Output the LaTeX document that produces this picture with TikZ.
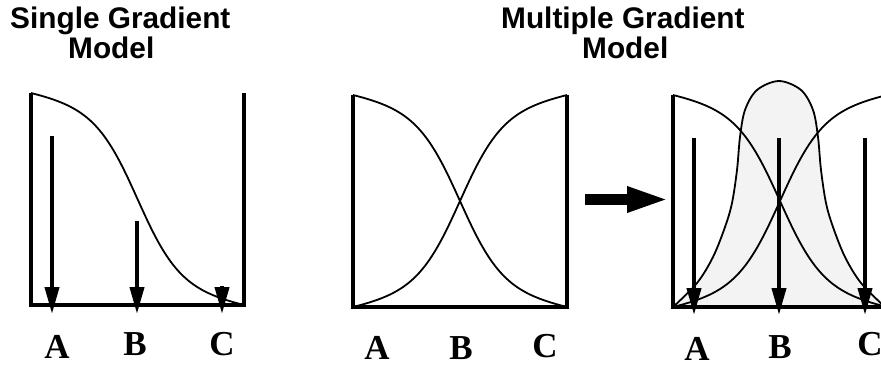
\documentclass[tikz,border=0pt]{standalone}
\usepackage{fontspec}
\setmainfont{Liberation Serif}
\newfontfamily\titlefont{Liberation Sans}
\usetikzlibrary{arrows.meta}
\definecolor{bellgray}{RGB}{243,243,243}
% sigmoid shape: g(u) = 0.2 u + 0.8 tanh(2.5u)/tanh(2.5)
\tikzset{declare function={sg(\u)=0.2*\u+0.8*tanh(2.5*\u)/tanh(2.5);}}
\begin{document}
\begin{tikzpicture}[x=1pt,y=-1pt,
  wall/.style={line width=4.5pt, line join=miter},
  curve/.style={line width=1.8pt},
  probe/.style={line width=4pt, -{Triangle[length=27pt,width=14pt]}},
  bigarrow/.style={line width=11pt, -{Triangle[length=43pt,width=23pt]}},
  lbl/.style={font=\fontsize{35}{35}\selectfont\bfseries, anchor=base, inner sep=0pt},
  ttl/.style={font=\titlefont\fontsize{29.8}{30}\selectfont\bfseries, anchor=base west, inner sep=0pt}]
\useasboundingbox (0,0) rectangle (881,367);
\clip (0,0) rectangle (881,367);

% titles
\node[ttl] (t1a) at (10,28) {Single Gradient};
\node[ttl] (t1b) at (68,58) {Model};
\node[ttl] (t2a) at (501,28) {Multiple Gradient};
\node[ttl] (t2b) at (582,58) {Model};

% ---------- panel 1 ----------
\draw[curve] plot[domain=31:244, samples=100]
  (\x, {93 + 212*(0.5 + 0.5*sg(2*(\x-31)/213-1))});
\draw[wall] (31,93) -- (31,305) -- (244,305) -- (244,93);
\coordinate (a1s) at (52,136);  \coordinate (a1e) at (52,314);
\coordinate (b1s) at (137,221); \coordinate (b1e) at (137,314);
\coordinate (c1s) at (222,286); \coordinate (c1e) at (222,314);
\draw[probe] (a1s) -- (a1e);
\draw[probe] (b1s) -- (b1e);
\draw[probe] (c1s) -- (c1e);
\node[lbl] (lA1) at (57,358) {A};
\node[lbl] (lB1) at (135,355) {B};
\node[lbl] (lC1) at (222,355) {C};

% ---------- panel 2 ----------
\draw[curve] plot[domain=353:567, samples=100]
  (\x, {95 + 212*(0.5 + 0.5*sg(2*(\x-353)/214-1))});
\draw[curve] plot[domain=353:567, samples=100]
  (\x, {95 + 212*(0.5 - 0.5*sg(2*(\x-353)/214-1))});
\draw[wall] (353,95) -- (353,307) -- (567,307) -- (567,95);
\node[lbl] (lA2) at (377,359) {A};
\node[lbl] (lB2) at (461,359) {B};
\node[lbl] (lC2) at (545,357) {C};

% big arrow
\coordinate (bas) at (585,199.5);
\coordinate (bae) at (670,199.5);
\draw[bigarrow] (bas) -- (bae);

% ---------- panel 3 ----------
\path[fill=bellgray, draw=black, curve] plot[smooth, tension=0.55] coordinates {
  (673,307) (697,283) (713,257) (725,227) (732,203) (737,170) (740,137)
  (745,110) (757,90) (779,81) (801,90) (813,110) (818,137) (821,170)
  (826,203) (833,227) (845,257) (861,283) (885,307)};
\draw[curve] plot[domain=673:887, samples=100]
  (\x, {95 + 212*(0.5 + 0.5*sg(2*(\x-673)/214-1))});
\draw[curve] plot[domain=673:887, samples=100]
  (\x, {95 + 212*(0.5 - 0.5*sg(2*(\x-673)/214-1))});
\draw[wall] (673,95) -- (673,307) -- (890,307);
\coordinate (a3s) at (694,138); \coordinate (a3e) at (694,315);
\coordinate (b3s) at (779,138); \coordinate (b3e) at (779,315);
\coordinate (c3s) at (865,138); \coordinate (c3e) at (865,315);
\draw[probe] (a3s) -- (a3e);
\draw[probe] (b3s) -- (b3e);
\draw[probe] (c3s) -- (c3e);
\node[lbl] (lA3) at (697,360) {A};
\node[lbl] (lB3) at (780,358) {B};
\node[lbl] (lC3) at (870,355) {C};
\end{tikzpicture}
\end{document}
